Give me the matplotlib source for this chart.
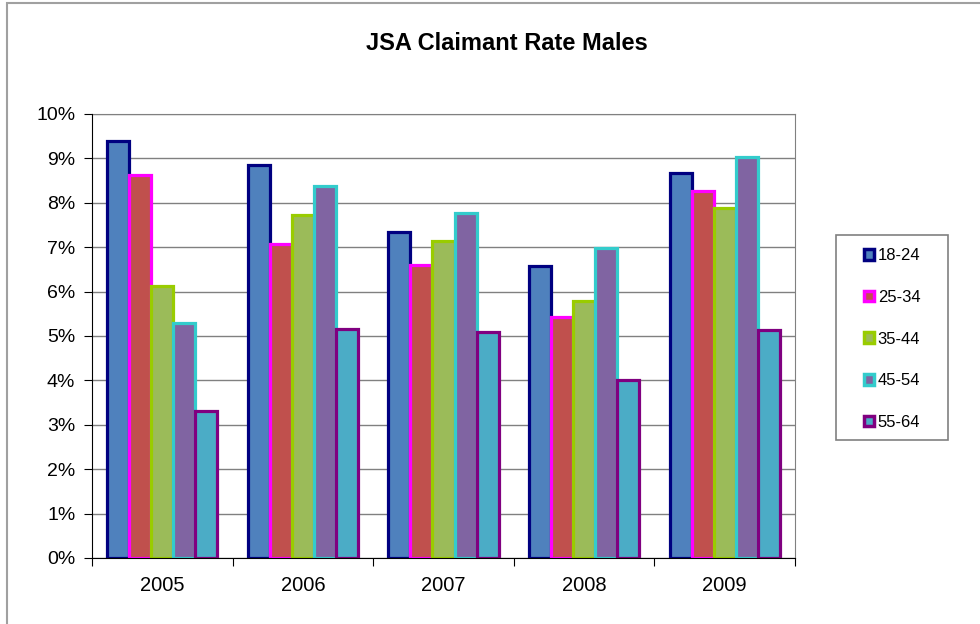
import numpy as np
import matplotlib
matplotlib.use("Agg")
import matplotlib.pyplot as plt
from matplotlib.patches import Patch, Rectangle
from matplotlib.ticker import PercentFormatter

years = ["2005", "2006", "2007", "2008", "2009"]
groups = ["18-24", "25-34", "35-44", "45-54", "55-64"]
rate_18_24 = [9.39, 8.85, 7.34, 6.58, 8.67]
rate_25_34 = [8.63, 7.07, 6.60, 5.43, 8.27]
rate_35_44 = [6.13, 7.73, 7.14, 5.79, 7.88]
rate_45_54 = [5.29, 8.38, 7.77, 6.98, 9.03]
rate_55_64 = [3.31, 5.16, 5.09, 4.01, 5.14]
series = [rate_18_24, rate_25_34, rate_35_44, rate_45_54, rate_55_64]

fills = ["#4F81BD", "#C0504D", "#9BBB59", "#8064A2", "#4BACC6"]
edges = ["#000080", "#FF00FF", "#99CC00", "#33CCCC", "#800080"]

plt.rcParams['font.family'] = ['Liberation Sans', 'DejaVu Sans']

fig = plt.figure(figsize=(9.8, 6.24), dpi=100)
# outer chart border (only top/left visible in the original)
fig.patches.append(Rectangle((7/980, -0.05), 1.1, 1.05 - 3/624, transform=fig.transFigure,
                             fill=False, edgecolor="#A0A0A0", lw=1.5))
ax = fig.add_axes([92/980, 66/624, 703/980, 444/624])

w = 0.157
x = np.arange(len(years)) + 0.5
for i, vals in enumerate(series):
    ax.bar(x + (i - 2) * w, vals, width=w, color=fills[i], edgecolor=edges[i],
           linewidth=2.3, zorder=3)

ax.set_xlim(0, 5)
ax.set_ylim(0, 10)
ax.set_yticks(range(0, 11))
ax.yaxis.set_major_formatter(PercentFormatter(decimals=0))
ax.yaxis.grid(True, color="#808080", lw=1, zorder=0)
ax.set_xticks(range(0, 6))
ax.set_xticklabels([])
ax.set_xticks(x, minor=True)
ax.set_xticklabels(years, minor=True, fontsize=14.5)
ax.tick_params(axis='x', which='minor', length=0, pad=13)
ax.tick_params(axis='x', which='major', length=6, direction='out', color='black')
ax.tick_params(axis='y', length=6, direction='out', labelsize=14, pad=6)
for s in ["top", "right"]:
    ax.spines[s].set_color("#808080")
for s in ["left", "bottom"]:
    ax.spines[s].set_color("black")
    ax.spines[s].set_zorder(4)

fig.suptitle("JSA Claimant Rate Males", x=0.517, y=0.948, fontsize=17, fontweight='bold')

# legend frame drawn separately so its size matches the original box
fig.patches.append(Rectangle((836/980, 1 - 440/624), 112/980, 205/624,
                             transform=fig.transFigure, fill=False,
                             edgecolor="#808080", lw=1.2))
handles = [Patch(facecolor=fills[i], edgecolor=edges[i], linewidth=2.5) for i in range(5)]
leg = fig.legend(handles, groups, loc='center', bbox_to_anchor=(892/980, 1 - 339/624),
                 fontsize=12, handlelength=0.6, handleheight=0.6, handletextpad=0.25,
                 labelspacing=1.6, borderaxespad=0, frameon=False)

fig.savefig("out.png", dpi=100)
